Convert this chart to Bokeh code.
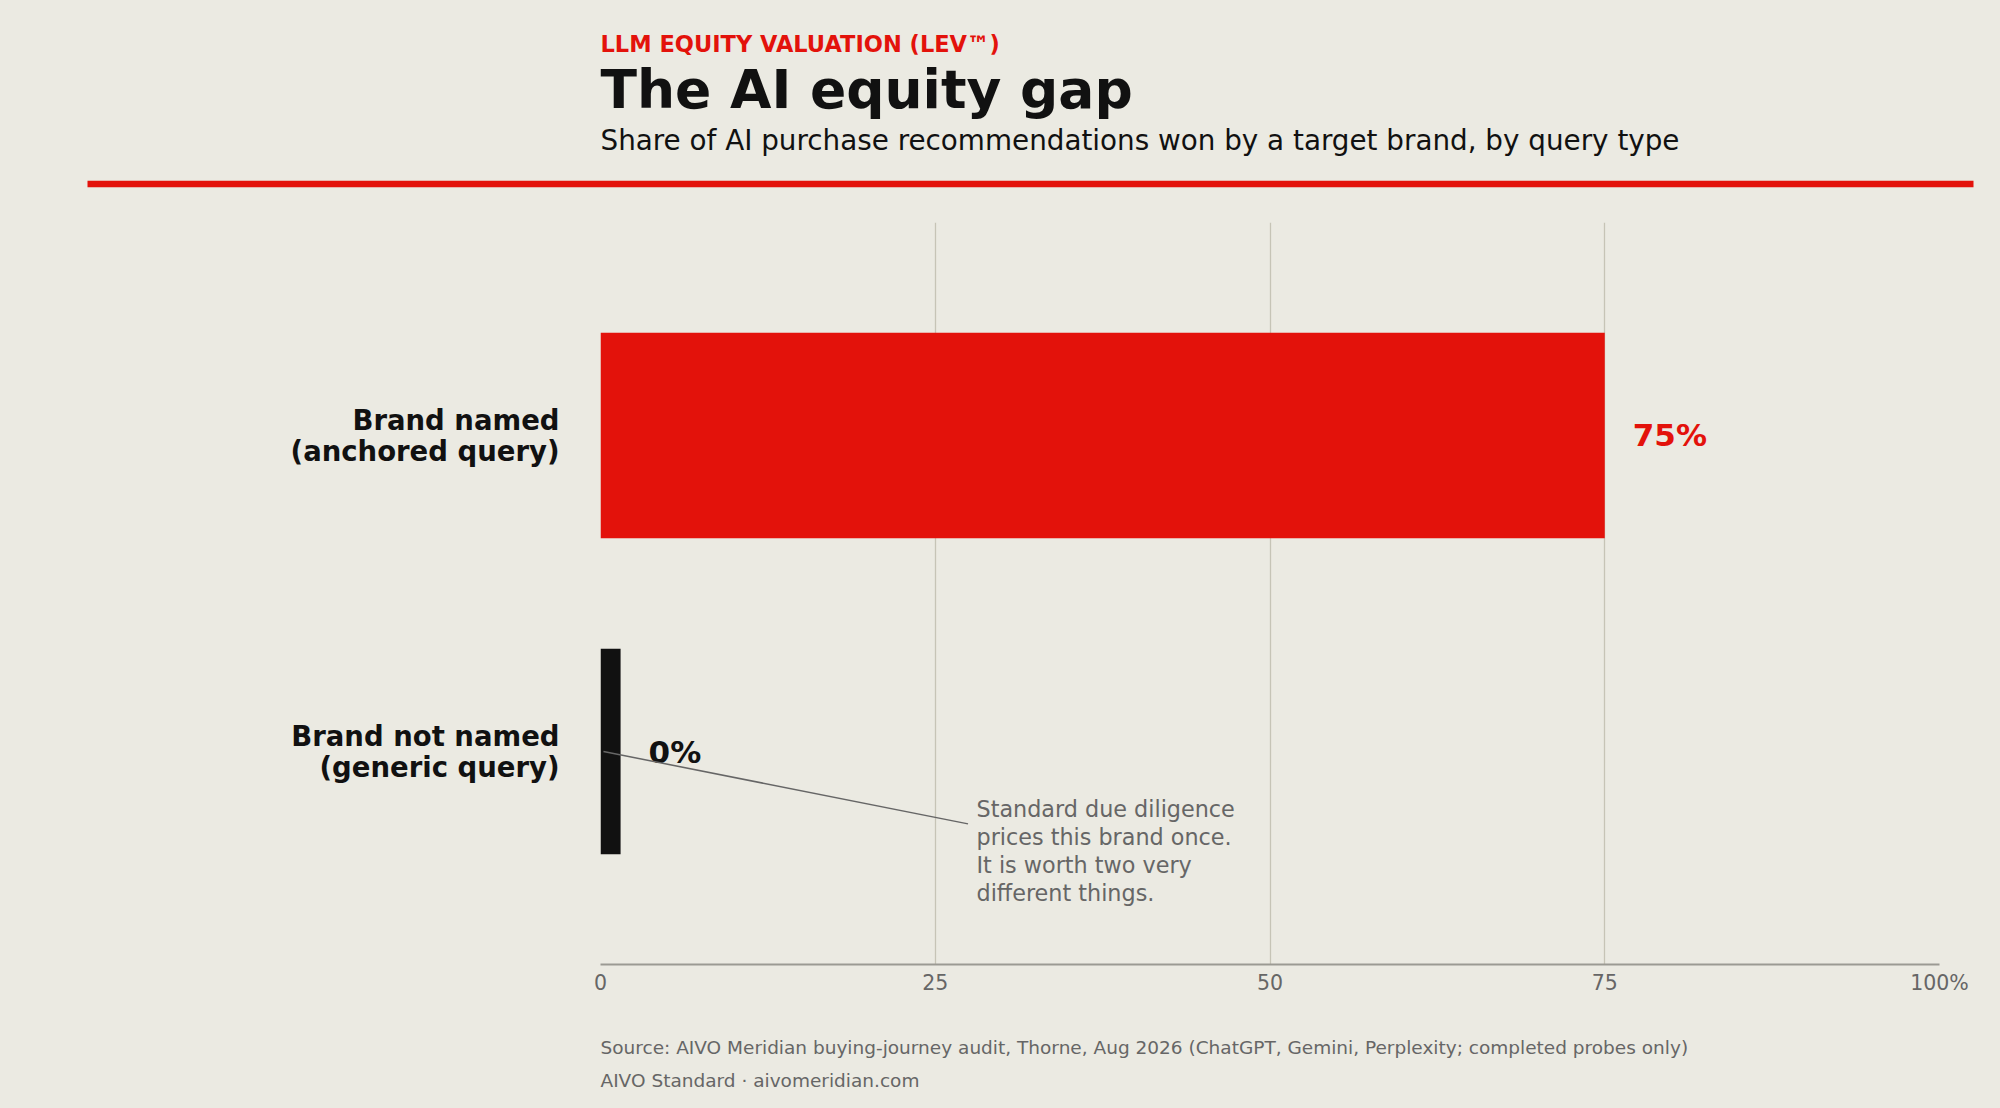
from bokeh.plotting import figure
from bokeh.layouts import column
from bokeh.models import ColumnDataSource, Range1d, FactorRange, FixedTicker
from bokeh.transform import dodge
from bokeh.core.properties import value
from bokeh.embed import file_html
from bokeh.resources import INLINE

# ---------------- data ----------------
categories = ["Brand named\n(anchored query)", "Brand not named\n(generic query)"]
shares = [75, 0]
bar_colors = ["#E3120B", "#111111"]
x_ticks = [0, 25, 50, 75, 100]
x_tick_labels = ["0", "25", "50", "75", "100%"]

kicker = "LLM EQUITY VALUATION (LEV\u2122)"
title = "The AI equity gap"
subtitle = "Share of AI purchase recommendations won by a target brand, by query type"
note = "Standard due diligence\nprices this brand once.\nIt is worth two very\ndifferent things."
source_txt = ("Source: AIVO Meridian buying-journey audit, Thorne, Aug 2026 "
              "(ChatGPT, Gemini, Perplexity; completed probes only)")
credit = "AIVO Standard \u00b7 aivomeridian.com"

# ---------------- style ----------------
BG = "#EBEAE2"
RED = "#E3120B"
INK = "#111111"
GREY = "#666666"
FONT = "DejaVu Sans"
W = 2000
HDR_H, MAIN_H, FTR_H = 222, 796, 90
LEFT = 600
MIN_STUB = 1.5  # keeps a zero bar visible as a thin stub


def blank(height):
    f = figure(width=W, height=height, x_range=Range1d(0, W), y_range=Range1d(height, 0),
               x_axis_location=None, y_axis_location=None,
               output_backend="svg", toolbar_location=None, min_border=0,
               frame_align=False)
    f.grid.visible = False
    f.outline_line_color = None
    f.background_fill_color = None
    f.border_fill_color = None
    return f


# ---------------- header ----------------
hdr = blank(HDR_H)
hdr.text(x=[LEFT], y=[43], text=[kicker], text_font=value(FONT), text_font_style="bold",
         text_font_size="22.5px", text_color=RED, text_baseline="alphabetic")
hdr.text(x=[LEFT], y=[89], text=[title], text_font=value(FONT), text_font_style="bold",
         text_font_size="53.5px", text_color=INK, text_baseline="alphabetic")
hdr.text(x=[LEFT], y=[140], text=[subtitle], text_font=value(FONT),
         text_font_size="27.8px", text_color=INK, text_baseline="alphabetic")
hdr.segment(x0=[87], y0=[183.5], x1=[1973], y1=[183.5], line_color=RED, line_width=6.5)

# ---------------- main chart ----------------
p = figure(width=W, height=MAIN_H,
           y_range=FactorRange(factors=list(reversed(categories)), range_padding=0.174),
           x_range=Range1d(0, 100),
           output_backend="svg", toolbar_location=None, frame_align=False,
           min_border_left=LEFT, min_border_right=61, min_border_top=0, min_border_bottom=54)
p.background_fill_color = None
p.border_fill_color = None
p.outline_line_color = None

display = [max(v, MIN_STUB) for v in shares]
labels = [f"{v:.0f}%" for v in shares]
src = ColumnDataSource(dict(cat=categories, share=shares, right=display,
                            color=bar_colors, label=labels))
p.hbar(y="cat", left=0, right="right", height=0.65, fill_color="color",
       line_color=None, source=src)
p.text(x="right", y="cat", text="label", text_color="color", x_offset=28,
       text_baseline="middle", text_font_size="31px", text_font_style="bold",
       text_font=value(FONT), source=src)

ann = ColumnDataSource(dict(cat=[categories[1]], note=[note]))
p.segment(x0=0.22, y0="cat", x1=27.45, y1=dodge("cat", -0.229, range=p.y_range),
          line_color=GREY, line_width=1.5, source=ann)
p.text(x=28.08, y=dodge("cat", -0.141, range=p.y_range), text="note", source=ann,
       text_font=value(FONT), text_font_size="22.3px", text_color=GREY,
       text_baseline="top", text_line_height=1.08)

p.xaxis.ticker = FixedTicker(ticks=x_ticks)
p.xaxis.major_label_overrides = dict(zip(x_ticks, x_tick_labels))
p.xaxis.axis_line_color = "#9B9A93"
p.xaxis.axis_line_width = 2
p.xaxis.major_tick_line_color = None
p.xaxis.minor_tick_line_color = None
p.xaxis.major_tick_out = 0
p.xaxis.major_tick_in = 0
p.xaxis.major_label_standoff = 6
p.xaxis.major_label_text_font = FONT
p.xaxis.major_label_text_font_size = "20.5px"
p.xaxis.major_label_text_color = GREY

p.yaxis.axis_line_color = None
p.yaxis.major_tick_line_color = None
p.yaxis.minor_tick_line_color = None
p.yaxis.major_tick_out = 0
p.yaxis.major_tick_in = 0
p.yaxis.major_label_standoff = 41
p.yaxis.major_label_text_font = FONT
p.yaxis.major_label_text_font_style = "bold"
p.yaxis.major_label_text_font_size = "27.5px"
p.yaxis.major_label_text_line_height = 0.98
p.yaxis.major_label_text_color = INK

p.xgrid.grid_line_color = "#C6C4B6"
p.xgrid.grid_line_width = 1.3
p.ygrid.grid_line_color = None

# ---------------- footer ----------------
ftr = blank(FTR_H)
ftr.text(x=[LEFT], y=[28.5], text=[source_txt], text_font=value(FONT),
         text_font_size="18.5px", text_color=GREY, text_baseline="alphabetic")
ftr.text(x=[LEFT], y=[61.5], text=[credit], text_font=value(FONT),
         text_font_size="18.5px", text_color=GREY, text_baseline="alphabetic")

layout = column(hdr, p, ftr, spacing=0)
html = file_html(layout, INLINE)
html = html.replace("</head>", f"<style>html, body {{ background: {BG}; }}</style></head>", 1)
open("out.html", "w").write(html)
